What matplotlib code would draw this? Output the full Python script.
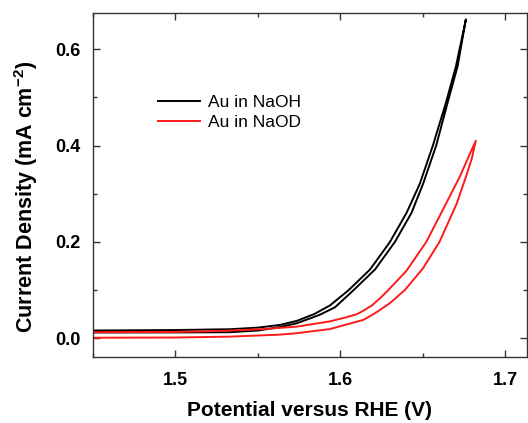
import matplotlib
matplotlib.use("Agg")
import matplotlib.pyplot as plt
from matplotlib.ticker import MultipleLocator

plt.rcParams['font.family'] = ['Liberation Sans', 'DejaVu Sans']
plt.rcParams['mathtext.fontset'] = 'custom'
plt.rcParams['mathtext.rm'] = 'Liberation Sans:bold'
plt.rcParams['mathtext.bf'] = 'Liberation Sans:bold'

# Au in NaOH, anodic sweep then return sweep (V vs RHE, mA cm-2)
naoh_fwd_v = [1.45, 1.50, 1.533, 1.55, 1.5633, 1.5735, 1.587, 1.5966, 1.608, 1.621, 1.633,
              1.643, 1.650, 1.658, 1.665, 1.671, 1.676]
naoh_fwd_j = [0.012, 0.012, 0.0125, 0.016, 0.023, 0.031, 0.048, 0.064, 0.100, 0.143, 0.200,
              0.260, 0.320, 0.400, 0.490, 0.565, 0.662]
naoh_rev_v = [1.676, 1.670, 1.664, 1.656, 1.648, 1.640, 1.630, 1.618, 1.605, 1.5936, 1.584,
              1.5735, 1.5633, 1.55, 1.533, 1.50, 1.45]
naoh_rev_j = [0.662, 0.565, 0.490, 0.400, 0.320, 0.260, 0.200, 0.143, 0.100, 0.068, 0.050,
              0.036, 0.0276, 0.022, 0.0187, 0.017, 0.016]

# Au in NaOD
naod_fwd_v = [1.45, 1.50, 1.533, 1.5633, 1.5735, 1.5936, 1.6138, 1.621, 1.630, 1.639, 1.650,
              1.660, 1.6705, 1.676, 1.6795, 1.682]
naod_fwd_j = [0.001, 0.0015, 0.0033, 0.0075, 0.0104, 0.019, 0.038, 0.052, 0.073, 0.100, 0.145,
              0.200, 0.280, 0.335, 0.372, 0.410]
naod_rev_v = [1.682, 1.677, 1.6724, 1.663, 1.652, 1.640, 1.629, 1.624, 1.619, 1.6138, 1.610,
              1.603, 1.5936, 1.5735, 1.553, 1.533, 1.52, 1.50, 1.45]
naod_rev_j = [0.410, 0.372, 0.336, 0.273, 0.200, 0.140, 0.100, 0.083, 0.068, 0.057, 0.050,
              0.043, 0.035, 0.024, 0.019, 0.016, 0.0145, 0.013, 0.0125]

fig = plt.figure(figsize=(5.28, 4.23), dpi=100)
ax = fig.add_axes([0.176, 0.156, 0.822, 0.813])

ax.plot(naoh_fwd_v + naoh_rev_v, naoh_fwd_j + naoh_rev_j, color='black', lw=1.4, label='Au in NaOH')
ax.plot(naod_fwd_v + naod_rev_v, naod_fwd_j + naod_rev_j, color='#ff1a1a', lw=1.4, label='Au in NaOD')

ax.set_xlim(1.45, 1.713)
ax.set_ylim(-0.039, 0.675)
ax.xaxis.set_major_locator(MultipleLocator(0.1))
ax.xaxis.set_minor_locator(MultipleLocator(0.05))
ax.yaxis.set_major_locator(MultipleLocator(0.2))
ax.yaxis.set_minor_locator(MultipleLocator(0.1))
ax.tick_params(which='both', direction='in', top=True, right=True, width=1, color='#333333')
ax.tick_params(which='major', length=5, labelsize=13)
ax.tick_params(axis='x', which='major', pad=10.5)
ax.tick_params(axis='y', which='major', pad=9)
ax.tick_params(which='minor', length=3)
for lab in ax.get_xticklabels() + ax.get_yticklabels():
    lab.set_fontweight('bold')
for s in ax.spines.values():
    s.set_color('#333333')
    s.set_linewidth(1)

ax.set_xlabel('Potential versus RHE (V)', fontsize=15, fontweight='bold')
ax.xaxis.set_label_coords(0.5, -0.128)
ax.set_ylabel(r'Current Density (mA cm$^{\mathbf{-2}}$)', fontsize=15.5, fontweight='bold')
ax.yaxis.set_label_coords(-0.123, 0.464)

ax.legend(loc='upper left', bbox_to_anchor=(0.15, 0.762), frameon=False, fontsize=12.5,
          handlelength=2.4, handletextpad=0.5, labelspacing=0.3, borderpad=0, borderaxespad=0)

plt.savefig('out.png', dpi=100)
